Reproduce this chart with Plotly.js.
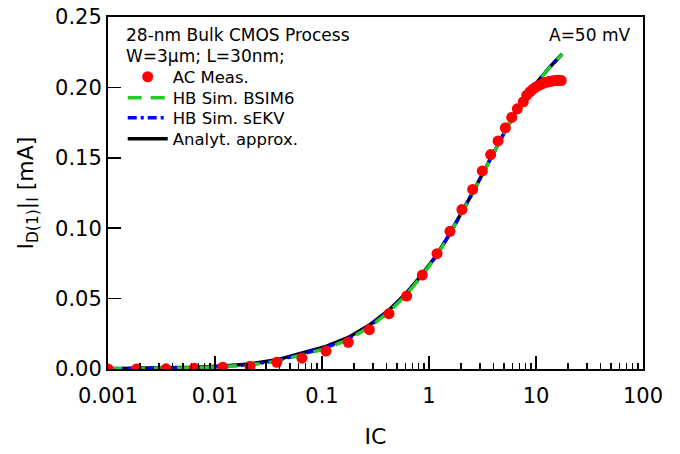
<!DOCTYPE html>
<html>
<head>
<meta charset="utf-8">
<script src="https://cdn.plot.ly/plotly-3.0.1.min.js"></script>
<style>html,body{margin:0;padding:0;background:#fff;}#chart{width:680px;height:454px;}</style>
</head>
<body>
<div id="chart"></div>
<script>
// Measured data (AC Meas.)
const measIC = [0.001, 0.00185, 0.00348, 0.00641, 0.0118, 0.0212, 0.0378, 0.065, 0.109, 0.176, 0.277, 0.423, 0.619,
  0.866, 1.188, 1.57, 2.03, 2.56, 3.15, 3.77, 4.42, 5.17, 5.93, 6.69, 7.61,
  8.2, 8.8, 9.4, 10.0, 10.6, 11.2, 11.8, 12.4, 13.0, 13.6, 14.2, 14.8, 15.4, 16.0, 16.6, 17.2];
const measI = [0, 0, 0.0001, 0.0006, 0.0013, 0.002, 0.0048, 0.0077, 0.0127, 0.019, 0.0279, 0.0393, 0.0518,
  0.0667, 0.0819, 0.0978, 0.1132, 0.1275, 0.1407, 0.1523, 0.162, 0.1713, 0.1787, 0.1848, 0.1898,
  0.1945, 0.1969, 0.1988, 0.2003, 0.2014, 0.2023, 0.2030, 0.2036, 0.2040, 0.2043, 0.2046, 0.2048, 0.2049, 0.2050, 0.2050, 0.2049];

// Simulation / analytic curves
const simIC = [0.001, 0.00185, 0.00348, 0.00641, 0.0118, 0.0212, 0.0378, 0.065, 0.109, 0.176, 0.277, 0.423, 0.619,
  0.866, 1.188, 1.57, 2.03, 2.56, 3.15, 3.77, 4.42, 5.17, 5.93, 6.69, 7.61, 8.8, 10.1, 13.5, 17.5];
const analytI = [0.0002, 0.0004, 0.0007, 0.0012, 0.0021, 0.0036, 0.0065, 0.0113, 0.0160, 0.0224, 0.0312, 0.0419, 0.0542,
  0.0674, 0.0813, 0.0963, 0.1113, 0.1253, 0.1383, 0.1498, 0.1598, 0.1693, 0.1773, 0.1843, 0.1903, 0.1968, 0.2033, 0.2145, 0.2237];
const bsim6I  = [0.0001, 0.0003, 0.0005, 0.0009, 0.0016, 0.0029, 0.0054, 0.0098, 0.0145, 0.0209, 0.0297, 0.0405, 0.0530,
  0.0665, 0.0806, 0.0958, 0.1108, 0.1249, 0.1380, 0.1496, 0.1597, 0.1692, 0.1772, 0.1842, 0.1902, 0.1967, 0.2032, 0.2144, 0.2235];
const sekvI   = [0.0002, 0.0003, 0.0006, 0.0010, 0.0018, 0.0032, 0.0059, 0.0105, 0.0152, 0.0216, 0.0304, 0.0412, 0.0536,
  0.0670, 0.0810, 0.0961, 0.1111, 0.1251, 0.1382, 0.1497, 0.1598, 0.1693, 0.1773, 0.1843, 0.1903, 0.1968, 0.2033, 0.2145, 0.2236];

// Axis ticks
const xTickVals = [0.001, 0.01, 0.1, 1, 10, 100];
const xTickText = ["0.001", "0.01", "0.1", "1", "10", "100"];
const yTickVals = [0.00, 0.05, 0.10, 0.15, 0.20, 0.25];
const yTickText = ["0.00", "0.05", "0.10", "0.15", "0.20", "0.25"];

const minorVals = [];
for (let d = -3; d < 2; d++) for (let k = 2; k <= 9; k++) minorVals.push(k * Math.pow(10, d));

const FONT = "DejaVu Sans, Liberation Sans, Arial, sans-serif";

const traces = [
  {x: simIC, y: analytI, mode: 'lines', name: 'Analyt. approx.', legend: 'legend4',
   line: {color: '#000000', width: 3.5}},
  {x: simIC, y: sekvI, mode: 'lines', name: 'HB Sim. sEKV', legend: 'legend3',
   line: {color: '#0000ff', width: 3.5, dash: '9px,4px,3px,4px'}},
  {x: simIC, y: bsim6I, mode: 'lines', name: 'HB Sim. BSIM6', legend: 'legend2',
   line: {color: '#22cc22', width: 3.5, dash: '14px,9px'}},
  {x: measIC, y: measI, mode: 'markers', name: 'AC Meas.', legend: 'legend',
   marker: {color: '#ff0000', size: 11, symbol: 'circle'}}
];

function leg(y) {
  return {x: 0.0275, y: y, xanchor: 'left', yanchor: 'middle', bgcolor: 'rgba(0,0,0,0)',
          font: {family: FONT, size: 16.5, color: '#000'}, itemwidth: 40};
}

const layout = {
  width: 680, height: 454,
  margin: {l: 108, r: 37, t: 17, b: 85},
  paper_bgcolor: '#ffffff', plot_bgcolor: '#ffffff',
  font: {family: FONT, color: '#000', size: 21},
  showlegend: true,
  legend: leg(0.8295), legend2: leg(0.7699), legend3: leg(0.7131), legend4: leg(0.6534),
  xaxis: {type: 'log', range: [-3, 2], tickmode: 'array', tickvals: xTickVals, ticktext: xTickText,
          ticks: 'inside', ticklen: 13, tickwidth: 1.5, tickcolor: '#000', ticklabelstandoff: 7,
          showline: true, linewidth: 2, linecolor: '#000', mirror: true,
          showgrid: false, zeroline: false,
          minor: {tickmode: 'array', tickvals: minorVals, ticks: 'inside', ticklen: 6, tickwidth: 1.5, tickcolor: '#000', showgrid: false},
          tickfont: {family: FONT, size: 21},
          title: {text: 'IC', font: {family: FONT, size: 22}, standoff: 21}},
  yaxis: {range: [0, 0.25], tickmode: 'array', tickvals: yTickVals, ticktext: yTickText,
          ticks: 'inside', ticklen: 13, tickwidth: 1.5, tickcolor: '#000',
          showline: true, linewidth: 2, linecolor: '#000', mirror: true,
          showgrid: false, zeroline: false,
          tickfont: {family: FONT, size: 21},
          title: {text: 'I<sub>D(1)</sub>|<sub>I</sub> [mA]', font: {family: FONT, size: 22}, standoff: 15}},
  annotations: [
    {xref: 'paper', yref: 'paper', x: 0.03, y: 0.95, xanchor: 'left', yanchor: 'middle', showarrow: false,
     text: '28-nm Bulk CMOS Process', font: {family: FONT, size: 17}},
    {xref: 'paper', yref: 'paper', x: 0.03, y: 0.89, xanchor: 'left', yanchor: 'middle', showarrow: false,
     text: 'W=3µm; L=30nm;', font: {family: FONT, size: 17}},
    {xref: 'paper', yref: 'paper', x: 0.98, y: 0.95, xanchor: 'right', yanchor: 'middle', showarrow: false,
     text: 'A=50 mV', font: {family: FONT, size: 17}}
  ]
};

Plotly.newPlot('chart', traces, layout, {staticPlot: true, displayModeBar: false});
</script>
</body>
</html>
